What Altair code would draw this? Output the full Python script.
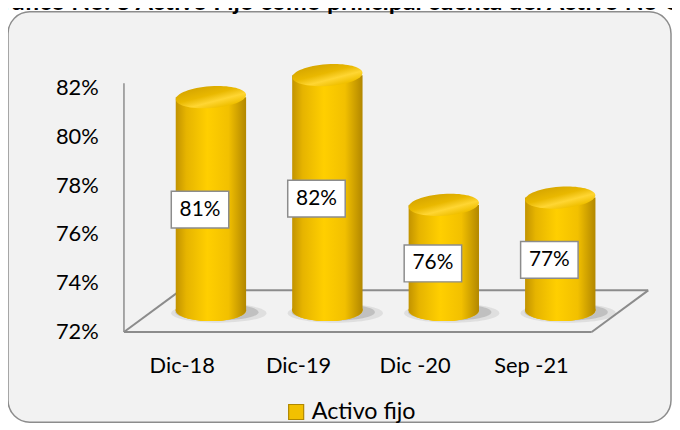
import altair as alt
import pandas as pd

categories = ["Dic-18", "Dic-19", "Dic -20", "Sep -21"]
values = [80.7, 81.6, 76.3, 76.6]
labels = ["81%", "82%", "76%", "77%"]
series = ["Activo fijo"] * 4
y_ticks = [72, 74, 76, 78, 80, 82]
title_text = "Gráfico No. 3 Activo Fijo como principal cuenta del Activo No Corriente"

df = pd.DataFrame({"cat": categories, "val": values, "lab": labels, "serie": series})
one = pd.DataFrame({"k": [0]})

FONT = "Lato"
ELL = "M -1 0 A 1 0.31 0 1 1 1 0 A 1 0.31 0 1 1 -1 0 Z"
SHADOW = "M -1 0 A 1 0.2 0 1 1 1 0 A 1 0.2 0 1 1 -1 0 Z"
BOX = "M -1 -0.64 L 1 -0.64 L 1 0.64 L -1 0.64 Z"

body_grad = alt.Gradient(
    gradient="linear", x1=0, y1=0, x2=1, y2=0,
    stops=[
        alt.GradientStop(color="#c29300", offset=0),
        alt.GradientStop(color="#e6b400", offset=0.15),
        alt.GradientStop(color="#ffcf00", offset=0.45),
        alt.GradientStop(color="#f2c000", offset=0.75),
        alt.GradientStop(color="#b28700", offset=1),
    ],
)
top_grad = alt.Gradient(
    gradient="linear", x1=0, y1=0, x2=0.6, y2=1,
    stops=[
        alt.GradientStop(color="#cf9f00", offset=0),
        alt.GradientStop(color="#e9b800", offset=0.5),
        alt.GradientStop(color="#ffd633", offset=0.75),
        alt.GradientStop(color="#f0c000", offset=1),
    ],
)

x_enc = alt.X(
    "cat:N", sort=categories,
    scale=alt.Scale(paddingInner=0, paddingOuter=0),
    axis=alt.Axis(title=None, labelAngle=0, domain=False, ticks=False,
                  labelFontSize=22, labelFont=FONT, labelColor="#000000",
                  labelPadding=24, zindex=1),
)
y_axis = alt.Axis(title=None, values=y_ticks, labelExpr="datum.value + '%'",
                  grid=False, domain=False, ticks=False, labelFontSize=22,
                  labelFont=FONT, labelColor="#000000", labelPadding=26,
                  zindex=1)
y_scale = alt.Scale(domain=[72, 82], nice=False, zero=False)
y_enc = alt.Y("val:Q", scale=y_scale, axis=y_axis)

frame = alt.Chart(one).mark_rect(
    cornerRadius=22, fill="#f2f2f2", stroke="#8c8c8c", strokeWidth=1.5
).encode(x=alt.value(-117), x2=alt.value(552), y=alt.value(-76), y2=alt.value(338))

title = alt.Chart(one).mark_text(
    text=title_text, fontWeight="bold", fontSize=25, font=FONT,
    align="left", baseline="alphabetic", color="#000000"
).encode(x=alt.value(-140), y=alt.value(-78))

line_style = dict(color="#8c8c8c", strokeWidth=2)
floor_front = alt.Chart(one).mark_rule(**line_style).encode(
    x=alt.value(0), x2=alt.value(472), y=alt.value(247), y2=alt.value(247))
floor_right = alt.Chart(one).mark_rule(**line_style).encode(
    x=alt.value(472), x2=alt.value(529), y=alt.value(247), y2=alt.value(205))
floor_back = alt.Chart(one).mark_rule(**line_style).encode(
    x=alt.value(57), x2=alt.value(529), y=alt.value(205), y2=alt.value(205))
floor_left = alt.Chart(one).mark_rule(**line_style).encode(
    x=alt.value(0), x2=alt.value(57), y=alt.value(247), y2=alt.value(205))
wall = alt.Chart(one).mark_rule(color="#8c8c8c", strokeWidth=1.5).encode(
    x=alt.value(0), y=alt.value(-4), y2=alt.value(247))

base = alt.Chart(df)

shadow1 = base.mark_point(
    shape=SHADOW, size=96 * 96, filled=True, fill="#8a8a8a", opacity=0.18,
    strokeWidth=0, xOffset=37, yOffset=-19
).encode(x=x_enc, y=alt.datum(72))
shadow2 = base.mark_point(
    shape=SHADOW, size=84 * 84, filled=True, fill="#7a7a7a", opacity=0.3,
    strokeWidth=0, xOffset=35, yOffset=-20
).encode(x=x_enc, y=alt.datum(72))

bottom_legend = base.mark_point(
    shape=ELL, size=71 * 71, filled=True, opacity=1, strokeWidth=0,
    xOffset=29, yOffset=-22
).encode(
    x=x_enc, y=alt.datum(72),
    fill=alt.Fill("serie:N", scale=alt.Scale(range=["#f2c000"]),
                  legend=alt.Legend(title=None, orient="none", legendX=162,
                                    legendY=316, symbolType="square",
                                    symbolSize=230, symbolStrokeColor="#b08800",
                                    symbolStrokeWidth=1.2, labelFontSize=23.5,
                                    labelFont=FONT, labelColor="#000000",
                                    labelOffset=4, padding=0, zindex=1)),
)
bottom = base.mark_point(
    shape=ELL, size=71 * 71, filled=True, fill=body_grad, opacity=1,
    strokeWidth=0, xOffset=29, yOffset=-22
).encode(x=x_enc, y=alt.datum(72))

body = base.mark_bar(
    width=71, xOffset=29, yOffset=-22, y2Offset=-22, fill=body_grad
).encode(x=x_enc, y=y_enc, y2=alt.datum(72))

top = base.mark_point(
    shape=ELL, size=71 * 71, filled=True, fill=top_grad, opacity=1,
    strokeWidth=0, xOffset=29, yOffset=-22, angle=356
).encode(x=x_enc, y=y_enc)

label_base = base.transform_calculate(mid="(datum.val + 72) / 2")
box = label_base.mark_point(
    shape=BOX, size=58 * 58, filled=True, fill="#ffffff", stroke="#8c8c8c",
    strokeWidth=1.5, opacity=1, xOffset=18, yOffset=-16
).encode(x=x_enc, y=alt.Y("mid:Q", scale=y_scale, axis=y_axis))
text = label_base.mark_text(
    fontSize=21, font=FONT, color="#000000", xOffset=18, yOffset=-16,
    align="center", baseline="middle"
).encode(x=x_enc, y=alt.Y("mid:Q", scale=y_scale, axis=y_axis), text="lab:N")

chart = alt.layer(
    frame, title, floor_front, floor_right, floor_back, floor_left, wall,
    shadow1, shadow2, bottom_legend, bottom, body, top, box, text
).properties(
    width=470, height=247,
    autosize=alt.AutoSizeParams(type="none"),
    padding={"left": 117, "top": 78, "right": 83, "bottom": 93},
    background="#ffffff",
).configure_view(strokeWidth=0)

chart.save("out.html", embed_options={"renderer": "svg", "actions": False})
